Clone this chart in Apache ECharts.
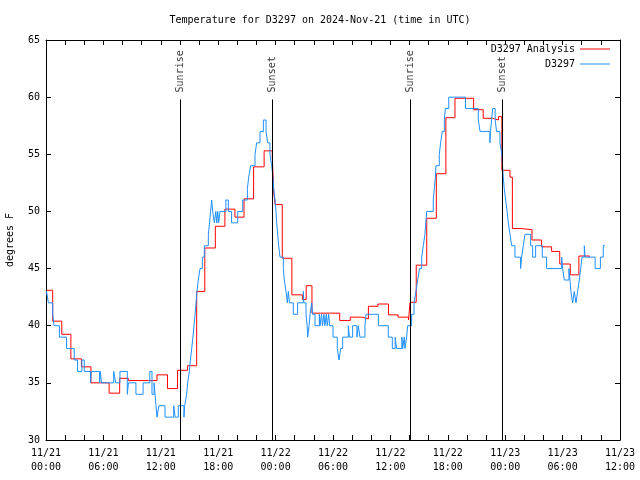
<!DOCTYPE html>
<html>
<head>
<meta charset="utf-8">
<script src="https://cdn.jsdelivr.net/npm/echarts@6/dist/echarts.min.js"></script>
<style>html,body{margin:0;padding:0;background:#fff}#c{width:640px;height:480px}</style>
</head>
<body>
<div id="c"></div>
<script>
// hours since 2024-11-21 00:00 UTC
const redHours = [0.05,0.7,1.65,2.6,3.7,4.7,5.7,6.6,7.7,8.6,9.7,10.7,11.6,12.7,13.75,14.8,15.75,16.6,17.7,18.7,19.75,20.7,21.7,22.8,23.65,23.8,23.95,24.7,25.7,26.8,27.2,27.8,28.7,29.7,30.7,31.8,33.0,33.7,34.7,35.8,36.8,37.9,38.05,38.7,39.8,40.8,41.8,42.75,43.7,44.7,45.7,46.7,47.3,47.65,48.5,48.75,49.7,50.8,51.8,52.85,53.7,54.8,55.7,56.8];
const redTemps = [43.1,40.4,39.25,37.1,36.4,35.0,35.0,34.1,35.4,35.2,35.2,35.2,35.7,34.5,36.1,36.5,43.0,46.8,48.7,50.2,49.5,51.1,53.9,55.3,54.8,51.7,50.6,45.9,42.7,42.3,43.5,41.1,41.1,41.1,40.45,40.75,40.6,41.7,41.9,40.95,40.75,40.5,42.05,45.3,49.4,53.3,58.2,59.9,59.9,58.9,58.15,58.0,58.3,53.6,53.0,48.5,48.4,47.5,46.9,46.5,45.4,44.45,46.1,46.0];

const blueHours = [0.05,0.25,0.7,0.84,1.4,2.15,2.95,3.3,3.75,4.0,4.65,4.72,5.6,5.68,5.8,7.08,7.28,7.73,8.5,8.62,9.4,10.15,10.85,11.08,11.3,11.5,11.6,11.8,12.44,13.35,13.5,13.83,14.42,14.5,14.7,14.81,14.98,15.09,15.23,15.36,15.47,15.58,15.68,15.78,15.92,16.1,16.34,16.55,16.97,17.1,17.2,17.32,17.42,17.6,17.75,17.85,17.95,18.05,18.19,18.8,19.06,19.4,20.04,20.56,21.05,21.19,21.39,21.85,22.02,22.37,22.72,23.0,23.17,23.41,23.59,23.72,23.8,23.94,24.04,24.11,24.22,24.32,24.46,24.81,24.91,25.09,25.23,25.33,25.45,25.85,26.3,26.9,26.95,27.18,27.3,27.35,27.5,27.6,27.77,27.87,28.12,28.57,28.64,28.8,28.9,29.05,29.15,29.3,29.4,29.55,29.65,30.0,30.45,30.63,30.8,31.01,31.6,31.72,32.05,32.5,32.65,32.82,33.34,33.45,34.74,35.78,36.2,36.5,36.65,37.2,37.28,37.45,37.52,37.7,37.8,38.22,38.47,38.67,38.85,39.05,39.27,39.44,39.61,39.7,39.79,40.48,40.59,40.7,40.76,41.11,41.25,41.42,41.64,41.74,42.1,43.85,45.19,45.37,46.4,46.46,46.58,46.69,46.95,47.1,47.25,47.45,47.65,47.72,47.8,47.9,48.05,48.2,48.33,48.5,48.67,49.02,49.61,49.72,49.89,50.07,50.66,50.87,51.18,51.88,52.33,53.9,54.0,54.18,54.66,54.77,54.87,55.05,55.22,55.4,55.57,55.75,55.89,56.03,56.27,56.35,57.4,57.95,58.25,58.43];
const blueTemps = [43,42,41,40,39,38,37,36,37,36,35,36,35,36,35,36,35,36,34,35,34,35,36,34,35,33,32,33,32,33,32,33,32,33,34,35,36,37,38,39,40,41,42,43,44,45,46,47,48,49,50,51,50,49,50,49,50,49,50,51,50,49,50,51,52,53,54,55,56,57,58,57,56,55,54,53,52,51,50,49,48,47,46,45,44,43,42,43,42,41,42,43,42,41,40,39,40,41,42,41,40,41,40,41,40,41,40,41,40,41,40,39,38,37,38,39,40,39,40,39,40,39,40,41,40,39,38,39,38,39,38,39,38,39,40,41,42,43,44,45,46,47,48,49,50,51,52,53,54,55,56,57,58,59,60,59,58,57,56,57,58,59,58,57,57,56,55,54,53,52,51,50,49,48,47,46,45,46,47,48,47,46,47,46,45,46,45,44,45,44,43,42,43,42,43,44,45,46,47,46,45,46,47,47];

const sunHours = [14.08, 23.65, 38.12, 47.69];
const sunNames = ['Sunrise', 'Sunset', 'Sunrise', 'Sunset'];

const tickDates = ['11/21','11/21','11/21','11/21','11/22','11/22','11/22','11/22','11/23','11/23','11/23'];
const tickTimes = ['00:00','06:00','12:00','18:00','00:00','06:00','12:00','18:00','00:00','06:00','12:00'];

const yMin = 30, yMax = 65, yStep = 5;
const sunLineTop = 59.8;
const sunLabelAt = 59.8;

const FONT = 'DejaVu Sans Mono';
const txt = {fontFamily: FONT, fontSize: 10, color: '#000'};

const chart = echarts.init(document.getElementById('c'), null, {renderer: 'canvas'});

const axisCommon = {
  type: 'value', min: 0, max: 60, interval: 2,
  axisLine: {show: true, onZero: false, lineStyle: {color: '#000', width: 1}},
  axisTick: {show: true, inside: true, length: 5, lineStyle: {color: '#000', width: 1}},
  splitLine: {show: false}
};

const legendCommon = {
  right: 30, padding: 0, align: 'right', orient: 'vertical',
  icon: 'rect', itemWidth: 30, itemHeight: 1, textStyle: txt, selectedMode: false
};

const option = {
  animation: false,
  backgroundColor: '#fff',
  title: {
    text: 'Temperature for D3297 on 2024-Nov-21 (time in UTC)',
    left: 'center', top: 15, padding: 0,
    textStyle: Object.assign({fontWeight: 'normal'}, txt)
  },
  legend: [
    Object.assign({data: ['D3297 Analysis'], top: 44}, legendCommon),
    Object.assign({data: ['D3297'], top: 59}, legendCommon)
  ],
  grid: {left: 46, right: 20, top: 40, bottom: 40, containLabel: false, outerBoundsMode: 'none'},
  xAxis: [
    Object.assign({}, axisCommon, {
      position: 'bottom',
      axisLabel: Object.assign({
        margin: 6, lineHeight: 14, showMinLabel: true, showMaxLabel: true,
        formatter: function (v) {
          if (Math.abs(v % 6) > 1e-6) return '';
          const i = Math.round(v / 6);
          return tickDates[i] + '\n' + tickTimes[i];
        }
      }, txt)
    }),
    Object.assign({}, axisCommon, {position: 'top', axisLabel: {show: false}})
  ],
  yAxis: [
    {
      type: 'value', min: yMin, max: yMax, interval: yStep, position: 'left',
      name: 'degrees F', nameLocation: 'middle', nameGap: 31, nameRotate: 90,
      nameTextStyle: txt,
      axisLine: {show: true, onZero: false, lineStyle: {color: '#000', width: 1}},
      axisTick: {show: true, inside: true, length: 5, lineStyle: {color: '#000'}},
      axisLabel: Object.assign({margin: 6}, txt),
      splitLine: {show: false}
    },
    {
      type: 'value', min: yMin, max: yMax, interval: yStep, position: 'right',
      axisLine: {show: true, onZero: false, lineStyle: {color: '#000', width: 1}},
      axisTick: {show: true, inside: true, length: 5, lineStyle: {color: '#000'}},
      axisLabel: {show: false},
      splitLine: {show: false}
    }
  ],
  series: [
    {
      name: 'sun', type: 'scatter', symbolSize: 0, silent: true,
      data: sunHours.map((h, i) => ({value: [h, sunLabelAt], name: sunNames[i]})),
      label: {
        show: true, position: 'top', distance: 7, rotate: 90,
        align: 'left', verticalAlign: 'middle',
        formatter: p => p.name,
        fontFamily: FONT, fontSize: 10, color: '#000'
      },
      markLine: {
        silent: true, symbol: 'none', animation: false,
        lineStyle: {color: '#000', width: 1, type: 'solid'},
        label: {show: false},
        data: sunHours.map(h => [{coord: [h, yMin]}, {coord: [h, sunLineTop]}])
      }
    },
    {
      name: 'D3297 Analysis', type: 'line', step: 'end', symbol: 'none',
      data: redHours.map((h, i) => [h, redTemps[i]]),
      lineStyle: {color: '#ff0000', width: 1},
      itemStyle: {color: '#ff0000'}
    },
    {
      name: 'D3297', type: 'line', step: 'end', symbol: 'none',
      data: blueHours.map((h, i) => [h, blueTemps[i]]),
      lineStyle: {color: '#1e90ff', width: 1},
      itemStyle: {color: '#1e90ff'}
    }
  ]
};
chart.setOption(option);
</script>
</body>
</html>
